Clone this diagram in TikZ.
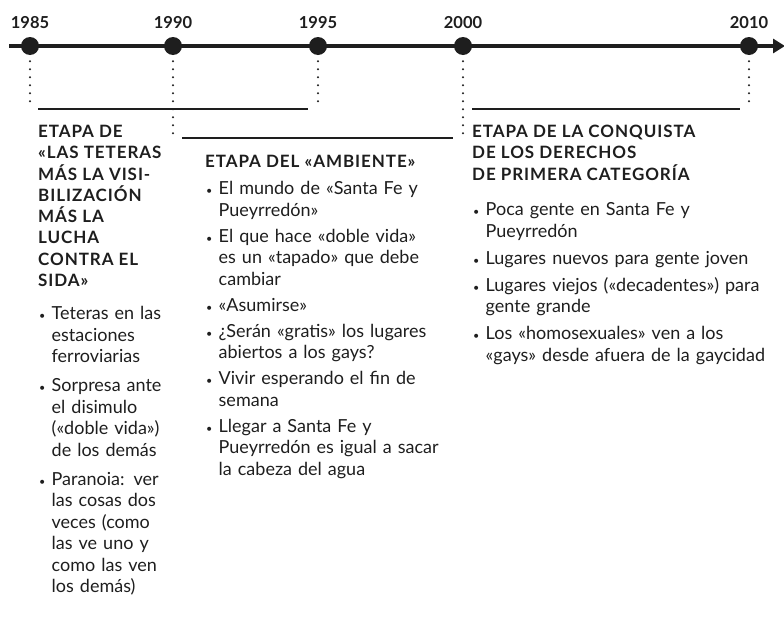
\documentclass[tikz,border=0pt]{standalone}
\usepackage{fontspec}
\setmainfont{Lato}
\newfontfamily\titlefont{Lato}[LetterSpace=5.5]
\usetikzlibrary{arrows.meta, positioning}
\definecolor{ink}{HTML}{1E1E1E}
\newlength{\itemgap}
\setlength{\itemgap}{5.5pt}
\newcommand{\bitem}[1]{\par\hangindent=13.5pt\hangafter=1\noindent
  \makebox[13.5pt][l]{\hspace{1pt}\scalebox{0.6}{\textbullet}}#1\par\vspace{\itemgap}}

\begin{document}
\begin{tikzpicture}[
  x=1pt, y=-1pt,
  yr/.style={circle, fill=ink, minimum size=18pt, inner sep=0pt},
  yrlab/.style={font=\bfseries\fontsize{16.5}{16.5}\selectfont, text=ink, inner sep=0pt},
  axis/.style={draw=ink, line width=4pt, -{Triangle[length=12pt, width=14pt]}},
  guide/.style={draw=ink, line width=2.2pt, dash pattern=on 0pt off 8pt, line cap=round},
  span/.style={draw=ink, line width=2.6pt},
  head/.style={anchor=north west, inner sep=0pt, align=left, text=ink,
    font=\titlefont\bfseries\fontsize{17}{21.3}\selectfont},
  list/.style={anchor=north west, inner sep=0pt, text=ink,
    font=\fontsize{18}{21.5}\selectfont}
]
\useasboundingbox (0,0) rectangle (784,616);

% time axis
\coordinate (ax0) at (9,46);
\coordinate (ax1) at (785,46);
\draw[axis] (ax0) -- (ax1);

\node[yr] (d1985) at (30,46) {};
\node[yr] (d1990) at (173,46) {};
\node[yr] (d1995) at (318,46) {};
\node[yr] (d2000) at (463,46) {};
\node[yr] (d2010) at (749,46) {};

\node[yrlab, above=8pt of d1985] (l1985) {1985};
\node[yrlab, above=8pt of d1990] (l1990) {1990};
\node[yrlab, above=8pt of d1995] (l1995) {1995};
\node[yrlab, above=8pt of d2000] (l2000) {2000};
\node[yrlab, above=8pt of d2010] (l2010) {2010};

% guides down to the stage brackets
\coordinate (g1985) at (30,109);
\coordinate (g1990) at (173,138);
\coordinate (g1995) at (318,109);
\coordinate (g2000) at (463,138);
\coordinate (g2010) at (749,109);
\draw[guide] ([yshift=-6pt]d1985.south) -- (g1985);
\draw[guide] ([yshift=-6pt]d1990.south) -- (g1990);
\draw[guide] ([yshift=-6pt]d1995.south) -- (g1995);
\draw[guide] ([yshift=-6pt]d2000.south) -- (g2000);
\draw[guide] ([yshift=-6pt]d2010.south) -- (g2010);

% stage brackets
\coordinate (s1a) at (38,109);  \coordinate (s1b) at (308,109);
\coordinate (s2a) at (182,138); \coordinate (s2b) at (453,138);
\coordinate (s3a) at (472,109); \coordinate (s3b) at (740,109);
\draw[span] (s1a) -- (s1b);
\draw[span] (s2a) -- (s2b);
\draw[span] (s3a) -- (s3b);

% stage 1
\node[head] (t1) at (38,125) {ETAPA DE\\«LAS TETERAS\\MÁS LA VISI-\\BILIZACIÓN\\MÁS LA\\LUCHA\\CONTRA EL\\SIDA»};
\node[list, text width=150pt] (b1) at (38,298) {\setlength{\itemgap}{7.5pt}%
  \bitem{Teteras en las\newline estaciones\newline ferroviarias}
  \bitem{Sorpresa ante\newline el disimulo\newline («doble vida»)\newline de los demás}
  \bitem{Paranoia: ver\newline las cosas dos\newline veces (como\newline las ve uno y\newline como las ven\newline los demás)}};

% stage 2
\node[head] (t2) at (205,155) {ETAPA DEL «AMBIENTE»};
\node[list, text width=270pt] (b2) at (205,173) {\setlength{\itemgap}{4.5pt}%
  \bitem{El mundo de «Santa Fe y\newline Pueyrredón»}
  \bitem{El que hace «doble vida»\newline es un «tapado» que debe\newline cambiar}
  \bitem{«Asumirse»}
  \bitem{¿Serán «gratis» los lugares\newline abiertos a los gays?}
  \bitem{Vivir esperando el fin de\newline semana}
  \bitem{Llegar a Santa Fe y\newline Pueyrredón es igual a sacar\newline la cabeza del agua}};

% stage 3
\node[head] (t3) at (472,125) {ETAPA DE LA CONQUISTA\\DE LOS DERECHOS\\DE PRIMERA CATEGORÍA};
\node[list, text width=310pt] (b3) at (472,194) {%
  \bitem{Poca gente en Santa Fe y\newline Pueyrredón}
  \bitem{Lugares nuevos para gente joven}
  \bitem{Lugares viejos («decadentes») para\newline gente grande}
  \bitem{Los «homosexuales» ven a los\newline «gays» desde afuera de la gaycidad}};
\end{tikzpicture}
\end{document}
